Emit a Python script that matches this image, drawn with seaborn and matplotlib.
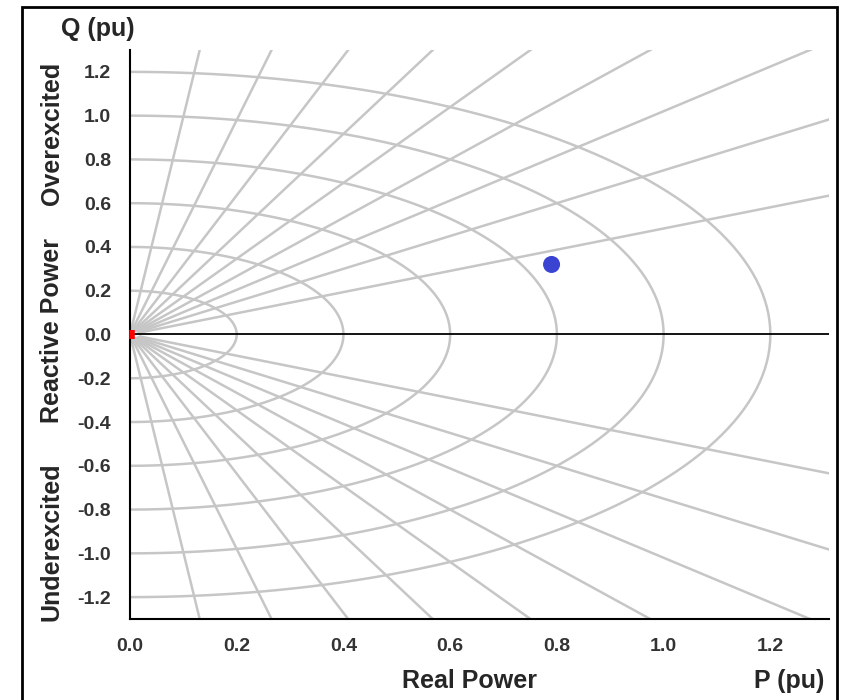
#libraries

import numpy as np
import pandas as pd
import matplotlib.pyplot as plt
import seaborn as sns
from matplotlib.patches import Rectangle

# chart data
mva_rings = [0.2, 0.4, 0.6, 0.8, 1.0, 1.2]                           # apparent power circles (pu)
power_factors = [0.1, 0.2, 0.3, 0.4, 0.5, 0.6, 0.7, 0.8, 0.9]        # constant pf lines, both sides
op_p = [0.79]                                                        # operating point, P (pu)
op_q = [0.32]                                                        # operating point, Q (pu)
x_ticks = [0.0, 0.2, 0.4, 0.6, 0.8, 1.0, 1.2]
y_ticks = [-1.2, -1.0, -0.8, -0.6, -0.4, -0.2, 0.0, 0.2, 0.4, 0.6, 0.8, 1.0, 1.2]

sns.set_theme(style="white")
plt.rcParams['font.family'] = ['Liberation Sans', 'DejaVu Sans']
plt.rcParams['axes.unicode_minus'] = False

# build the grid curves (rings + pf rays) as one long table
rows = []
theta = np.linspace(-np.pi / 2, np.pi / 2, 241)
for r in mva_rings:
    for t in theta:
        rows.append({'curve': f"ring {r}", 'P': r * np.cos(t), 'Q': r * np.sin(t)})
for pf in power_factors:
    for sign in (1, -1):
        ang = sign * np.arccos(pf)
        for rr in (0.02, 2.5):
            rows.append({'curve': f"pf {pf} {sign}", 'P': rr * np.cos(ang), 'Q': rr * np.sin(ang)})
grid = pd.DataFrame(rows)

fig = plt.figure(figsize=(8.49, 7.0), dpi=100)
ax = fig.add_axes([0.1531, 0.1157, 0.8234, 0.8129])

sns.lineplot(data=grid, x='P', y='Q', units='curve', estimator=None, sort=False,
             color='#c6c6c6', lw=1.8, legend=False, ax=ax)

ax.axhline(0, color='black', lw=1.3, zorder=3)

# operating point
sns.scatterplot(x=op_p, y=op_q, s=150, color='#3a43d2', edgecolor='none', zorder=5, ax=ax)

# red marker at origin
ax.plot([0.004, 0.004], [-0.019, 0.019], color='red', lw=4, solid_capstyle='butt',
        clip_on=False, zorder=6)

ax.set_xlim(0, 1.31)
ax.set_ylim(-1.3, 1.3)
ax.set_xticks(x_ticks)
ax.set_yticks(y_ticks)
ax.set_xticklabels([f"{v:.1f}" for v in x_ticks])
ax.set_yticklabels([f"{v:.1f}" for v in y_ticks])
ax.set_xlabel("")
ax.set_ylabel("")

for s in ['top', 'right']:
    ax.spines[s].set_visible(False)
for s in ['left', 'bottom']:
    ax.spines[s].set_color('black')
    ax.spines[s].set_linewidth(1.5)

ax.tick_params(axis='both', direction='inout', length=11, width=1.5, color='black',
               labelsize=14, labelcolor='#333333')
ax.tick_params(axis='y', pad=8)
ax.tick_params(axis='x', pad=8)
for lab in ax.get_xticklabels() + ax.get_yticklabels():
    lab.set_fontweight('bold')

# labels
fig.text(0.115, 0.958, "Q (pu)", fontsize=18, fontweight='bold', ha='center', va='center')
fig.text(0.929, 0.027, "P (pu)", fontsize=18, fontweight='bold', ha='center', va='center')
fig.text(0.553, 0.027, "Real Power", fontsize=18, fontweight='bold', ha='center', va='center')
fig.text(0.061, 0.81, "Overexcited", fontsize=18, fontweight='bold', rotation=90,
         ha='center', va='center')
fig.text(0.061, 0.528, "Reactive Power", fontsize=18, fontweight='bold', rotation=90,
         ha='center', va='center')
fig.text(0.061, 0.226, "Underexcited", fontsize=18, fontweight='bold', rotation=90,
         ha='center', va='center')

# outer frame
fig.add_artist(Rectangle((0.026, -0.05), 0.96, 1.04, transform=fig.transFigure,
                         fill=False, lw=2, ec='black'))

fig.savefig('out.png', dpi=100)
